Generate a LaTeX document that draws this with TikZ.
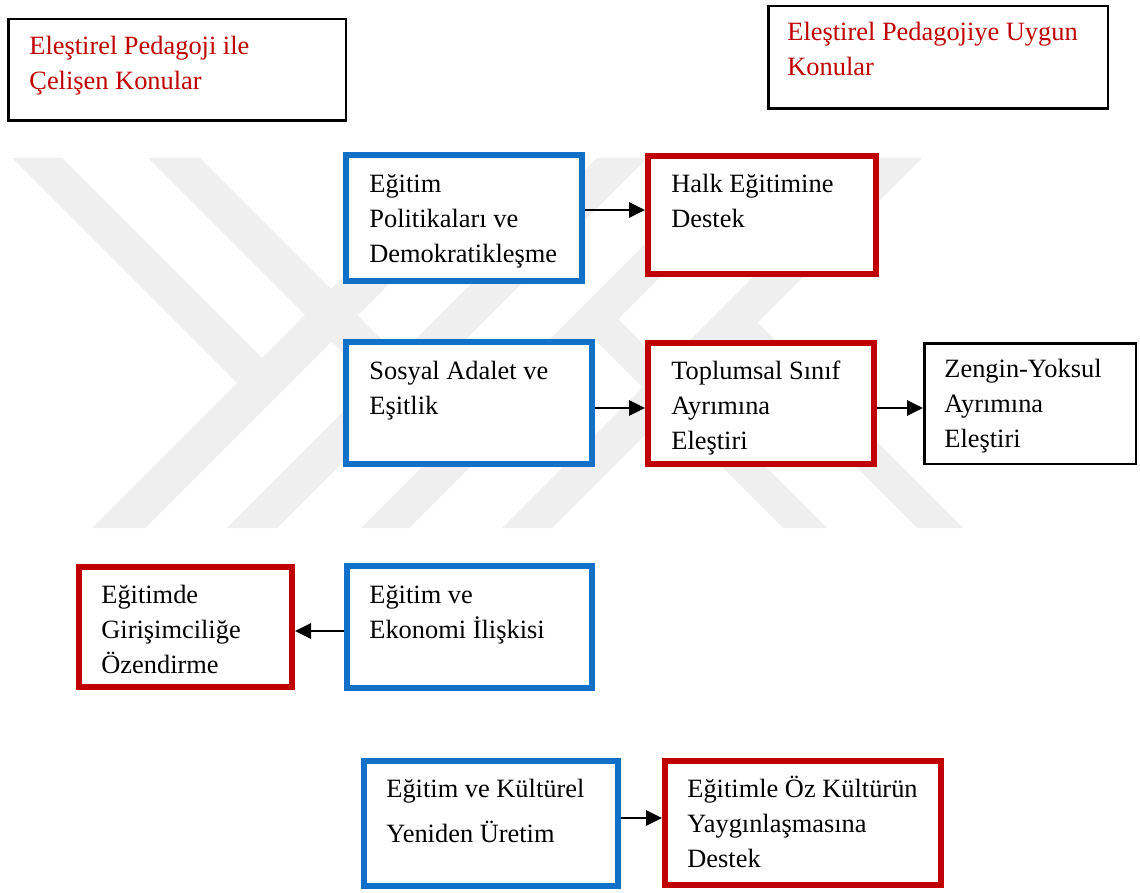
\documentclass[tikz,border=0pt]{standalone}
\usepackage{fontspec}
\setmainfont{Liberation Serif}
\usetikzlibrary{arrows.meta}
\definecolor{boxblue}{RGB}{18,112,200}
\definecolor{boxred}{RGB}{192,0,0}
\definecolor{markgray}{RGB}{239,239,239}

\begin{document}
\begin{tikzpicture}[x=0.5pt,y=-0.5pt,
  panel/.style={draw, fill=white, anchor=north west, inner sep=0pt},
  bluebox/.style={panel, draw=boxblue, line width=3pt},
  redbox/.style={panel, draw=boxred, line width=3pt},
  plainbox/.style={panel, draw=black, line width=1.25pt},
  boxtext/.style={anchor=north west, inner sep=0pt, align=left,
    font=\fontsize{13.2pt}{17.5pt}\selectfont},
  redtext/.style={boxtext, text=boxred},
  arr/.style={line width=1.4pt, -{Triangle[length=8pt,width=7.5pt]}},
  band/.style={fill=markgray, draw=none}
]
\useasboundingbox (0,0) rectangle (1140,893);

% faint chevron emblem in the background
\fill[band] (92,528) -- (145,528) -- (515,158) -- (462,158) -- cycle;
\fill[band] (227,528) -- (277,528) -- (647,158) -- (597,158) -- cycle;
\fill[band] (361,528) -- (409,528) -- (779,158) -- (731,158) -- cycle;
\fill[band] (502,528) -- (552,528) -- (922,158) -- (872,158) -- cycle;
\fill[band] (12,158) -- (62,158) -- (288.5,384.5) -- (237,383) -- cycle;
\fill[band] (148,158) -- (200,158) -- (423.5,381.5) -- (372.5,382.5) -- cycle;
\fill[band] (783,528) -- (827,528) -- (618,319) -- (572,317) -- cycle;
\fill[band] (917,528) -- (963,528) -- (757.5,322.5) -- (709.5,320.5) -- cycle;

% headings
\node[plainbox, minimum width=168.75pt, minimum height=50.75pt] (left) at (7,18) {};
\node[redtext] (left-t) at (29,29.5) {\strut Eleştirel Pedagoji ile\\Çelişen Konular};
\node[plainbox, minimum width=169.75pt, minimum height=51.25pt] (right) at (767,5) {};
\node[redtext] (right-t) at (787,15.5) {\strut Eleştirel Pedagojiye Uygun\\Konular};

% row 1
\node[bluebox, minimum width=118pt, minimum height=63pt] (pol) at (343,152) {};
\node[boxtext] (pol-t) at (369,167.5) {\strut Eğitim\\Politikaları ve\\Demokratikleşme};
\node[redbox, minimum width=114pt, minimum height=59pt] (halk) at (645,153) {};
\node[boxtext] (halk-t) at (671,167.5) {\strut Halk Eğitimine\\Destek};

% row 2
\node[bluebox, minimum width=123pt, minimum height=61pt] (sos) at (343,339) {};
\node[boxtext] (sos-t) at (369,354.5) {\strut Sosyal Adalet ve\\Eşitlik};
\node[redbox, minimum width=113pt, minimum height=60.5pt] (sinif) at (645,340) {};
\node[boxtext] (sinif-t) at (671,354.5) {\strut Toplumsal Sınıf\\Ayrımına\\Eleştiri};
\node[plainbox, minimum width=105.75pt, minimum height=60.25pt] (zengin) at (923,342) {};
\node[boxtext] (zengin-t) at (944,353) {\strut Zengin-Yoksul\\Ayrımına\\Eleştiri};

% row 3
\node[redbox, minimum width=106.5pt, minimum height=60pt] (giris) at (76,564) {};
\node[boxtext] (giris-t) at (101,578.5) {\strut Eğitimde\\Girişimciliğe\\Özendirme};
\node[bluebox, minimum width=122.5pt, minimum height=61pt] (eko) at (344,563) {};
\node[boxtext] (eko-t) at (369,578.5) {\strut Eğitim ve\\Ekonomi İlişkisi};

% row 4
\node[bluebox, minimum width=127pt, minimum height=62.5pt] (kult) at (361,758) {};
\node[boxtext] (kult-t) at (386,772.5) {\strut Eğitim ve Kültürel\\[5pt]Yeniden Üretim};
\node[redbox, minimum width=138pt, minimum height=62pt] (oz) at (662,758) {};
\node[boxtext] (oz-t) at (687,772.5) {\strut Eğitimle Öz Kültürün\\Yaygınlaşmasına\\Destek};

% connectors
\draw[arr] (pol.east |- 0,210) -- (halk.west |- 0,210);
\draw[arr] (sos.east |- 0,408) -- (sinif.west |- 0,408);
\draw[arr] (sinif.east |- 0,408) -- (zengin.west |- 0,408);
\draw[arr] (eko.west |- 0,631) -- (giris.east |- 0,631);
\draw[arr] (kult.east |- 0,818) -- (oz.west |- 0,818);
\end{tikzpicture}
\end{document}
